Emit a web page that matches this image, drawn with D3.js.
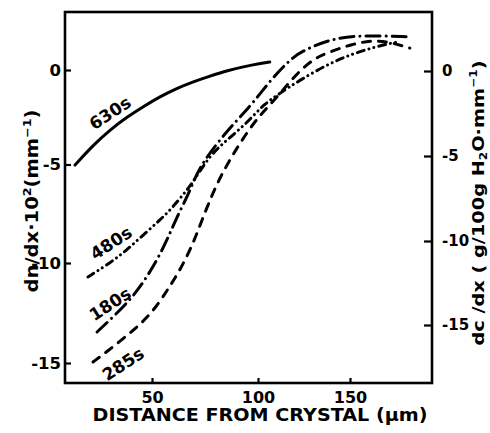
<!DOCTYPE html>
<html><head><meta charset="utf-8">
<script src="https://cdn.jsdelivr.net/npm/d3@7"></script>
<style>
body{margin:0;background:#fff}
svg text{font-family:"DejaVu Sans",sans-serif;font-weight:bold;fill:#000}
</style>
</head><body><svg id="c" width="490" height="433"></svg>
<script>
// ---- data (distance in µm, gradient values on left axis) ----
const xTicks = [50, 100, 150];
const leftTicks = [0, -5, -10, -15];
const rightTicks = [0, -5, -10, -15];

const x630 = [13.7, 22.3, 30.2, 38.1, 45.9, 53.8, 61.7, 69.5, 77.4, 85.2, 93.1, 101.1, 106.4];
const y630 = [-5.03, -3.97, -3.17, -2.50, -1.94, -1.41, -0.97, -0.62, -0.32, -0.04, 0.17, 0.35, 0.42];

const x480 = [19.8, 30.2, 38.2, 45.8, 53.8, 59.9, 66.5, 69.3, 77.4, 85.4, 94.8, 102.7, 112.0, 122.8, 139.1, 153.8, 171.7, 177.2];
const y480 = [-10.7, -10.0, -9.34, -8.58, -7.82, -7.16, -6.29, -5.89, -4.50, -3.70, -2.80, -1.85, -1.22, -0.53, 0.37, 0.95, 1.43, 1.48];

const x180 = [24.1, 31.6, 39.6, 45.8, 52.4, 57.1, 61.8, 66.5, 69.3, 72.6, 80.7, 90.1, 97.6, 108.2, 117.4, 122.8, 139.1, 155.4, 182.6];
const y180 = [-13.45, -12.7, -11.85, -11.0, -9.85, -8.83, -7.66, -6.65, -5.94, -5.13, -3.86, -2.65, -1.75, -0.37, 0.53, 0.95, 1.64, 1.85, 1.75];

const x285 = [22.2, 29.2, 37.3, 45.3, 52.4, 58.5, 63.2, 68.9, 73.6, 78.8, 84.4, 91.5, 98.6, 104.9, 113.6, 122.8, 132.1, 137.5, 151.1, 163.6, 173.4, 182.6];
const y285 = [-14.95, -14.4, -13.7, -13.0, -12.15, -11.15, -10.35, -9.14, -7.82, -6.40, -5.18, -3.86, -2.70, -2.01, -1.06, 0, 0.69, 0.90, 1.38, 1.59, 1.43, 1.16];

const seriesNames = ["630s", "480s", "180s", "285s"];

// ---- layout ----
const svg = d3.select("#c");
const L = 65, R = 432, T = 12, B = 383;

// hand-drawn axes: piecewise linear scales through the tick marks
const xs = d3.scaleLinear().domain([9, 50, 100, 150, 194.6]).range([L, 152, 258, 350, R]);
const yl = d3.scaleLinear().domain([3.07, 0, -5, -10, -15, -16]).range([T, 70, 164.5, 263, 363, B]);
const yr = d3.scaleLinear().domain([3.47, 0, -5, -10, -15, -18.45]).range([T, 71, 156, 241, 325, B]);

// frame
svg.append("rect").attr("x", L).attr("y", T).attr("width", R - L).attr("height", B - T)
  .attr("fill", "none").attr("stroke", "#000").attr("stroke-width", 2.6);

function styleAxis(g, fs) {
  g.select(".domain").remove();
  g.attr("font-family", null).attr("font-size", null);
  g.selectAll(".tick line").attr("stroke", "#000").attr("stroke-width", 2.2);
  g.selectAll(".tick text").style("font-size", fs + "px");
}
const fmt = d => String(d);

svg.append("g").attr("transform", `translate(${L},0)`)
  .call(d3.axisLeft(yl).tickValues(leftTicks).tickSize(-6).tickPadding(4).tickFormat(fmt))
  .call(g => styleAxis(g, 16.5));
svg.append("g").attr("transform", `translate(${R},0)`)
  .call(d3.axisRight(yr).tickValues(rightTicks).tickSize(-8).tickPadding(10).tickFormat(fmt))
  .call(g => styleAxis(g, 15));
svg.append("g").attr("transform", `translate(0,${B})`)
  .call(d3.axisBottom(xs).tickValues(xTicks).tickSize(-5).tickPadding(9).tickFormat(fmt))
  .call(g => styleAxis(g, 16));

// curves
const line = d3.line().x(d => xs(d[0])).y(d => yl(d[1])).curve(d3.curveBasis);
const zip = (a, b) => a.map((v, i) => [v, b[i]]);
const curves = [
  {pts: zip(x630, y630), dash: null},
  {pts: zip(x480, y480), dash: "7,5,0.1,5,0.1,5"},
  {pts: zip(x180, y180), dash: "14,6,0.1,6"},
  {pts: zip(x285, y285), dash: "8,8"}
];
curves.forEach(c => {
  svg.append("path").attr("d", line(c.pts)).attr("fill", "none").attr("stroke", "#000")
    .attr("stroke-width", 3).attr("stroke-linecap", "round")
    .attr("stroke-dasharray", c.dash);
});

// curve labels
const labelPos = [[110, 113], [111, 243], [110, 304], [123, 364]];
seriesNames.forEach((s, i) => {
  svg.append("text").text(s)
    .attr("transform", `translate(${labelPos[i][0]},${labelPos[i][1]}) rotate(-33)`)
    .attr("text-anchor", "middle").attr("dominant-baseline", "central")
    .style("font-size", "17px");
});

// axis titles, stretched to the drawn lengths
function fit(t, cx, cy, rot, len) {
  const w = t.node().getComputedTextLength();
  t.attr("transform", `translate(${cx},${cy}) rotate(${rot}) scale(${len / w},1)`);
}
const lt = svg.append("text").attr("text-anchor", "middle").style("font-size", "17px");
lt.append("tspan").text("dn/dx·10");
lt.append("tspan").text("2").attr("dy", -7).style("font-size", "11px");
lt.append("tspan").text("(mm").attr("dy", 7);
lt.append("tspan").text("−1").attr("dy", -7).style("font-size", "11px");
lt.append("tspan").text(")").attr("dy", 7);
fit(lt, 38, 201, -90, 183);

const rt = svg.append("text").attr("text-anchor", "middle").style("font-size", "16px");
rt.append("tspan").text("dc /dx ( g/100g H");
rt.append("tspan").text("2").attr("dy", 3).style("font-size", "10px");
rt.append("tspan").text("O·mm").attr("dy", -3);
rt.append("tspan").text("−1").attr("dy", -7).style("font-size", "10px");
rt.append("tspan").text(")").attr("dy", 7);
fit(rt, 484, 203, -90, 285);

const bt = svg.append("text").attr("text-anchor", "middle")
  .style("font-size", "17px").text("DISTANCE FROM CRYSTAL (μm)");
fit(bt, 260, 421, 0, 335);
</script></body></html>
